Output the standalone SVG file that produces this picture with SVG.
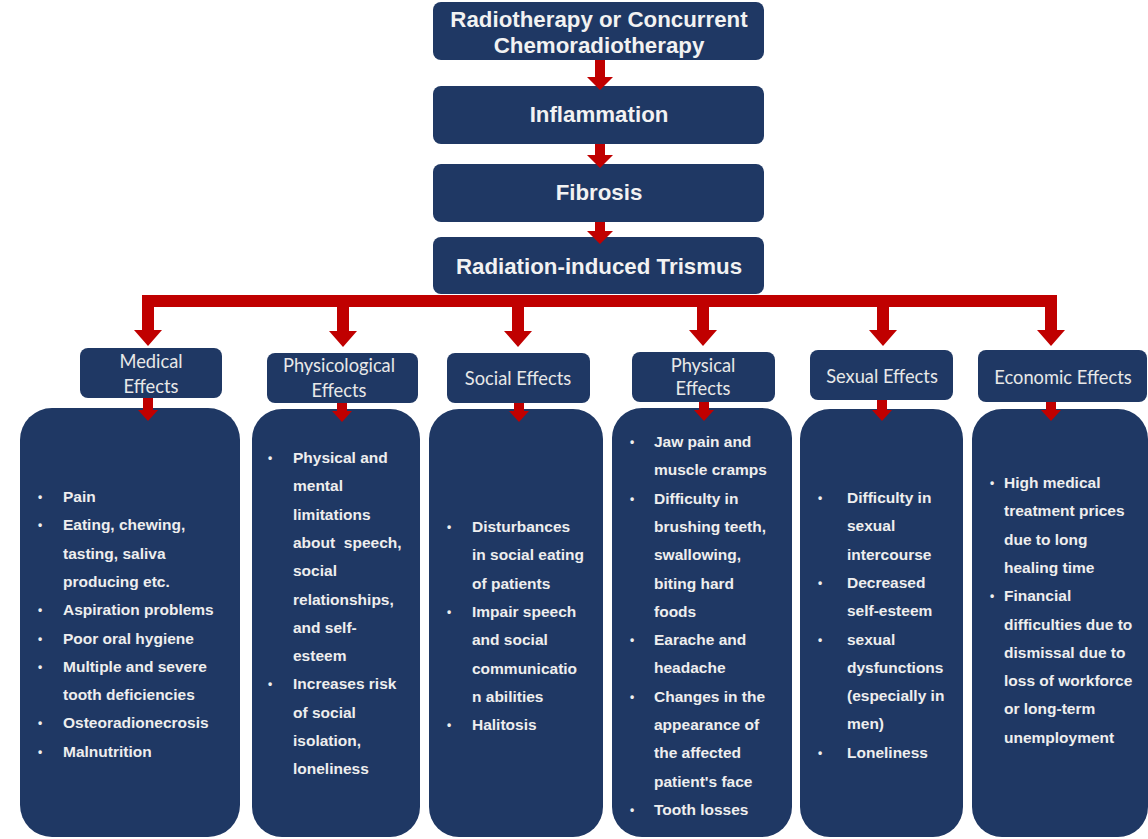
<svg xmlns="http://www.w3.org/2000/svg" width="1148" height="839" viewBox="0 0 1148 839">
  <defs>
    <style>
      .box { fill: #1f3864; }
      .arrow { fill: #c00000; }
      .title { font-family: "Liberation Sans", Arial, sans-serif; font-weight: bold; font-size: 22.3px; fill: #f2f2f2; text-anchor: middle; }
      .head { font-family: Lato, "Open Sans", sans-serif; font-size: 18.3px; fill: #e8e8e8; text-anchor: middle; }
      .item { font-family: "Liberation Sans", Arial, sans-serif; font-weight: bold; font-size: 15.5px; fill: #eeeeee; }
      .dot { font-family: "Liberation Sans", Arial, sans-serif; font-weight: bold; font-size: 12px; fill: #eeeeee; }
    </style>
  </defs>
  <rect width="1148" height="839" fill="#ffffff"/>

  <!-- causal chain -->
  <g id="node-radiotherapy">
    <rect class="box" x="433" y="2" width="331" height="58" rx="8"/>
    <text class="title" x="599" y="27">Radiotherapy or Concurrent</text>
    <text class="title" x="599" y="53">Chemoradiotherapy</text>
  </g>
  <g id="node-inflammation">
    <rect class="box" x="433" y="86" width="331" height="58" rx="8"/>
    <text class="title" x="599" y="122">Inflammation</text>
  </g>
  <g id="node-fibrosis">
    <rect class="box" x="433" y="164" width="331" height="58" rx="8"/>
    <text class="title" x="599" y="200">Fibrosis</text>
  </g>
  <g id="node-trismus">
    <rect class="box" x="433" y="237" width="331" height="57" rx="8"/>
    <text class="title" x="599" y="274">Radiation-induced Trismus</text>
  </g>

  <!-- effect categories -->
  <g id="node-medical">
    <rect class="box" x="80" y="348" width="142" height="50" rx="8"/>
    <text class="head" x="151" y="368">Medical</text>
    <text class="head" x="151" y="393">Effects</text>
    <rect class="box" x="20" y="408" width="220" height="429" rx="32"/>
    <text class="dot"><tspan x="38" y="501">•</tspan><tspan x="38" y="529.3">•</tspan><tspan x="38" y="614.2">•</tspan><tspan x="38" y="642.5">•</tspan><tspan x="38" y="670.8">•</tspan><tspan x="38" y="727.4">•</tspan><tspan x="38" y="755.7">•</tspan></text>
    <text class="item">
      <tspan x="63" y="502">Pain</tspan>
      <tspan x="63" dy="28.3">Eating, chewing,</tspan>
      <tspan x="63" dy="28.3">tasting, saliva</tspan>
      <tspan x="63" dy="28.3">producing etc.</tspan>
      <tspan x="63" dy="28.3">Aspiration problems</tspan>
      <tspan x="63" dy="28.3">Poor oral hygiene</tspan>
      <tspan x="63" dy="28.3">Multiple and severe</tspan>
      <tspan x="63" dy="28.3">tooth deficiencies</tspan>
      <tspan x="63" dy="28.3">Osteoradionecrosis</tspan>
      <tspan x="63" dy="28.3">Malnutrition</tspan>
    </text>
  </g>

  <g id="node-psychological">
    <rect class="box" x="267" y="353" width="151" height="50" rx="8"/>
    <text class="head" x="339" y="372">Physicological</text>
    <text class="head" x="339" y="397">Effects</text>
    <rect class="box" x="252" y="409" width="168" height="428" rx="30"/>
    <text class="dot"><tspan x="268" y="462">•</tspan><tspan x="268" y="688.4">•</tspan></text>
    <text class="item">
      <tspan x="293" y="463">Physical and</tspan>
      <tspan x="293" dy="28.3">mental</tspan>
      <tspan x="293" dy="28.3">limitations</tspan>
      <tspan x="293" dy="28.3">about&#160; speech,</tspan>
      <tspan x="293" dy="28.3">social</tspan>
      <tspan x="293" dy="28.3">relationships,</tspan>
      <tspan x="293" dy="28.3">and self-</tspan>
      <tspan x="293" dy="28.3">esteem</tspan>
      <tspan x="293" dy="28.3">Increases risk</tspan>
      <tspan x="293" dy="28.3">of social</tspan>
      <tspan x="293" dy="28.3">isolation,</tspan>
      <tspan x="293" dy="28.3">loneliness</tspan>
    </text>
  </g>

  <g id="node-social">
    <rect class="box" x="447" y="353" width="143" height="50" rx="8"/>
    <text class="head" x="518" y="385">Social Effects</text>
    <rect class="box" x="429" y="409" width="174" height="428" rx="30"/>
    <text class="dot"><tspan x="447" y="531">•</tspan><tspan x="447" y="615.9">•</tspan><tspan x="447" y="729">•</tspan></text>
    <text class="item">
      <tspan x="472" y="532">Disturbances</tspan>
      <tspan x="472" dy="28.3">in social eating</tspan>
      <tspan x="472" dy="28.3">of patients</tspan>
      <tspan x="472" dy="28.3">Impair speech</tspan>
      <tspan x="472" dy="28.3">and social</tspan>
      <tspan x="472" dy="28.3">communicatio</tspan>
      <tspan x="472" dy="28.3">n abilities</tspan>
      <tspan x="472" dy="28.3">Halitosis</tspan>
    </text>
  </g>

  <g id="node-physical">
    <rect class="box" x="632" y="352" width="143" height="50" rx="8"/>
    <text class="head" x="703" y="372">Physical</text>
    <text class="head" x="703" y="395">Effects</text>
    <rect class="box" x="612" y="408" width="180" height="429" rx="30"/>
    <text class="dot"><tspan x="630" y="446">•</tspan><tspan x="630" y="502.6">•</tspan><tspan x="630" y="644.1">•</tspan><tspan x="630" y="700.7">•</tspan><tspan x="630" y="813.9">•</tspan></text>
    <text class="item">
      <tspan x="654" y="447">Jaw pain and</tspan>
      <tspan x="654" dy="28.3">muscle cramps</tspan>
      <tspan x="654" dy="28.3">Difficulty in</tspan>
      <tspan x="654" dy="28.3">brushing teeth,</tspan>
      <tspan x="654" dy="28.3">swallowing,</tspan>
      <tspan x="654" dy="28.3">biting hard</tspan>
      <tspan x="654" dy="28.3">foods</tspan>
      <tspan x="654" dy="28.3">Earache and</tspan>
      <tspan x="654" dy="28.3">headache</tspan>
      <tspan x="654" dy="28.3">Changes in the</tspan>
      <tspan x="654" dy="28.3">appearance of</tspan>
      <tspan x="654" dy="28.3">the affected</tspan>
      <tspan x="654" dy="28.3">patient's face</tspan>
      <tspan x="654" dy="28.3">Tooth losses</tspan>
    </text>
  </g>

  <g id="node-sexual">
    <rect class="box" x="810" y="350" width="143" height="50" rx="8"/>
    <text class="head" x="882" y="383">Sexual Effects</text>
    <rect class="box" x="800" y="409" width="163" height="428" rx="30"/>
    <text class="dot"><tspan x="818" y="502">•</tspan><tspan x="818" y="586.9">•</tspan><tspan x="818" y="643.5">•</tspan><tspan x="818" y="756.7">•</tspan></text>
    <text class="item">
      <tspan x="847" y="503">Difficulty in</tspan>
      <tspan x="847" dy="28.3">sexual</tspan>
      <tspan x="847" dy="28.3">intercourse</tspan>
      <tspan x="847" dy="28.3">Decreased</tspan>
      <tspan x="847" dy="28.3">self-esteem</tspan>
      <tspan x="847" dy="28.3">sexual</tspan>
      <tspan x="847" dy="28.3">dysfunctions</tspan>
      <tspan x="847" dy="28.3">(especially in</tspan>
      <tspan x="847" dy="28.3">men)</tspan>
      <tspan x="847" dy="28.3">Loneliness</tspan>
    </text>
  </g>

  <g id="node-economic">
    <rect class="box" x="978" y="350" width="169" height="52" rx="8"/>
    <text class="head" x="1063" y="384">Economic Effects</text>
    <rect class="box" x="972" y="409" width="176" height="428" rx="30"/>
    <text class="dot"><tspan x="990" y="487">•</tspan><tspan x="990" y="600.2">•</tspan></text>
    <text class="item">
      <tspan x="1004" y="488">High medical</tspan>
      <tspan x="1004" dy="28.3">treatment prices</tspan>
      <tspan x="1004" dy="28.3">due to long</tspan>
      <tspan x="1004" dy="28.3">healing time</tspan>
      <tspan x="1004" dy="28.3">Financial</tspan>
      <tspan x="1004" dy="28.3">difficulties due to</tspan>
      <tspan x="1004" dy="28.3">dismissal due to</tspan>
      <tspan x="1004" dy="28.3">loss of workforce</tspan>
      <tspan x="1004" dy="28.3">or long-term</tspan>
      <tspan x="1004" dy="28.3">unemployment</tspan>
    </text>
  </g>

  <!-- connectors: block arrows in red -->
  <g id="connectors" class="arrow">
    <!-- chain arrows -->
    <path d="M595,60 H605 V77 H613 L600,90 L587,77 H595 Z"/>
    <path d="M595,144 H605 V155 H613 L600,168 L587,155 H595 Z"/>
    <path d="M595,222 H605 V231 H613 L600,244 L587,231 H595 Z"/>
    <!-- distribution bar -->
    <rect x="142" y="295" width="915" height="12"/>
    <!-- drops to each category -->
    <path d="M142,301 H154 V330 H162 L148,346 L134,330 H142 Z"/>
    <path d="M337,301 H349 V331 H357 L343,347 L329,331 H337 Z"/>
    <path d="M512,301 H524 V331 H532 L518,347 L504,331 H512 Z"/>
    <path d="M697,301 H709 V330 H717 L703,346 L689,330 H697 Z"/>
    <path d="M877,301 H889 V330 H897 L883,346 L869,330 H877 Z"/>
    <path d="M1045,301 H1057 V330 H1065 L1051,346 L1037,330 H1045 Z"/>
    <!-- category to details -->
    <path d="M143,398 H153 V410 H158 L148,421 L138,410 H143 Z"/>
    <path d="M337,403 H347 V411 H352 L342,422 L332,411 H337 Z"/>
    <path d="M514,403 H524 V411 H529 L519,422 L509,411 H514 Z"/>
    <path d="M699,402 H709 V410 H714 L704,421 L694,410 H699 Z"/>
    <path d="M877,400 H887 V410 H892 L882,421 L872,410 H877 Z"/>
    <path d="M1046,402 H1056 V410 H1061 L1051,421 L1041,410 H1046 Z"/>
  </g>
</svg>
